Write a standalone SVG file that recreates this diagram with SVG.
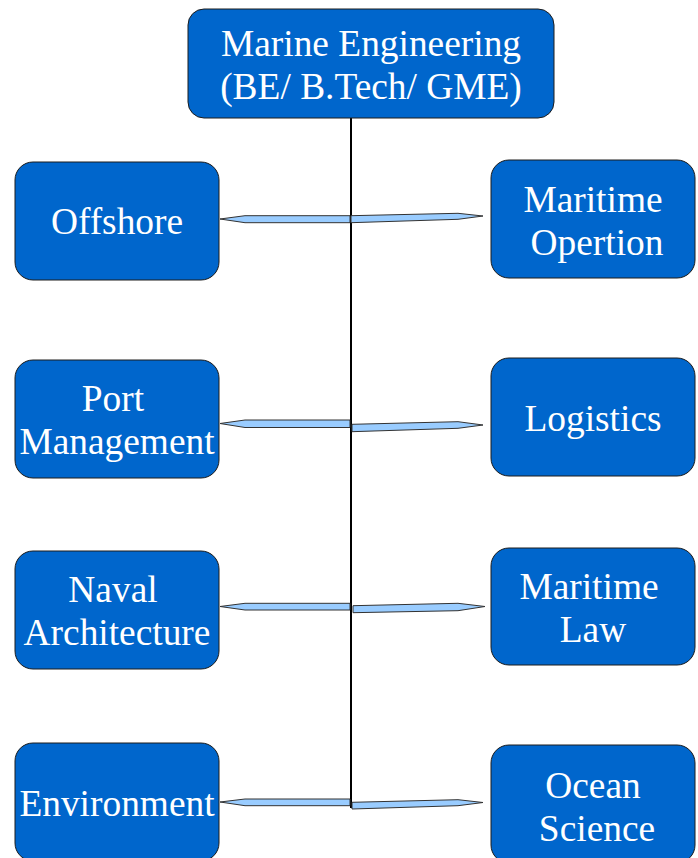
<svg xmlns="http://www.w3.org/2000/svg" width="698" height="858" viewBox="0 0 698 858">
<style>
.box{fill:#0066cc;stroke:#1c1c1c;stroke-width:1}
.t{font-family:"Liberation Serif","Times New Roman","DejaVu Serif",serif;font-size:37.4px;fill:#ffffff;text-anchor:middle}
.arr{fill:#99ccff;stroke:#333333;stroke-width:1;stroke-linejoin:miter}
.vline{stroke:#000000;stroke-width:2;fill:none}
</style>
<rect width="698" height="858" fill="#ffffff"/>
<g id="connectors">
<line class="vline" x1="351" y1="118" x2="351" y2="808"/>
<polygon class="arr" points="220,219 245,215.7 350,215.7 350,222.7 245,222.7"/>
<polygon class="arr" points="351,215.7 458,213.3 483,216 458,219.3 351,222.7"/>
<polygon class="arr" points="220,423.5 245,420 350,420 350,427.5 245,427.5"/>
<polygon class="arr" points="352,424.3 458,421.7 483,425 458,428.3 352,431.7"/>
<polygon class="arr" points="220,606.5 245,603.3 350,603.3 350,610 245,610"/>
<polygon class="arr" points="353,605.7 458,603.3 485,606.5 458,610.7 353,612.7"/>
<polygon class="arr" points="220,802 245,799 350,799 350,805.7 245,805.7"/>
<polygon class="arr" points="352,802.3 458,799.7 483,802.5 458,805.7 352,809"/>
</g>
<g id="marine-engineering">
<rect class="box" x="188" y="9" width="366" height="109" rx="16"/>
<text class="t" x="371" y="56">Marine Engineering</text>
<text class="t" x="371" y="99">(BE/ B.Tech/ GME)</text>
</g>
<g id="offshore">
<rect class="box" x="15" y="162" width="204" height="118" rx="18"/>
<text class="t" x="117" y="234">Offshore</text>
</g>
<g id="maritime-opertion">
<rect class="box" x="491" y="160" width="204" height="118" rx="18"/>
<text class="t" x="593" y="212">Maritime</text>
<text class="t" x="597" y="255">Opertion</text>
</g>
<g id="port-management">
<rect class="box" x="15" y="360" width="204" height="118" rx="18"/>
<text class="t" x="113" y="411">Port</text>
<text class="t" x="117" y="454">Management</text>
</g>
<g id="logistics">
<rect class="box" x="491" y="358" width="204" height="118" rx="18"/>
<text class="t" x="593" y="431">Logistics</text>
</g>
<g id="naval-architecture">
<rect class="box" x="15" y="551" width="204" height="118" rx="18"/>
<text class="t" x="113" y="602">Naval</text>
<text class="t" x="117" y="645">Architecture</text>
</g>
<g id="maritime-law">
<rect class="box" x="491" y="548" width="204" height="117" rx="18"/>
<text class="t" x="589" y="599">Maritime</text>
<text class="t" x="593" y="642">Law</text>
</g>
<g id="environment">
<rect class="box" x="15" y="743" width="204" height="118" rx="18"/>
<text class="t" x="117" y="816">Environment</text>
</g>
<g id="ocean-science">
<rect class="box" x="491" y="745" width="204" height="118" rx="18"/>
<text class="t" x="593" y="798">Ocean</text>
<text class="t" x="597" y="841">Science</text>
</g>
</svg>
